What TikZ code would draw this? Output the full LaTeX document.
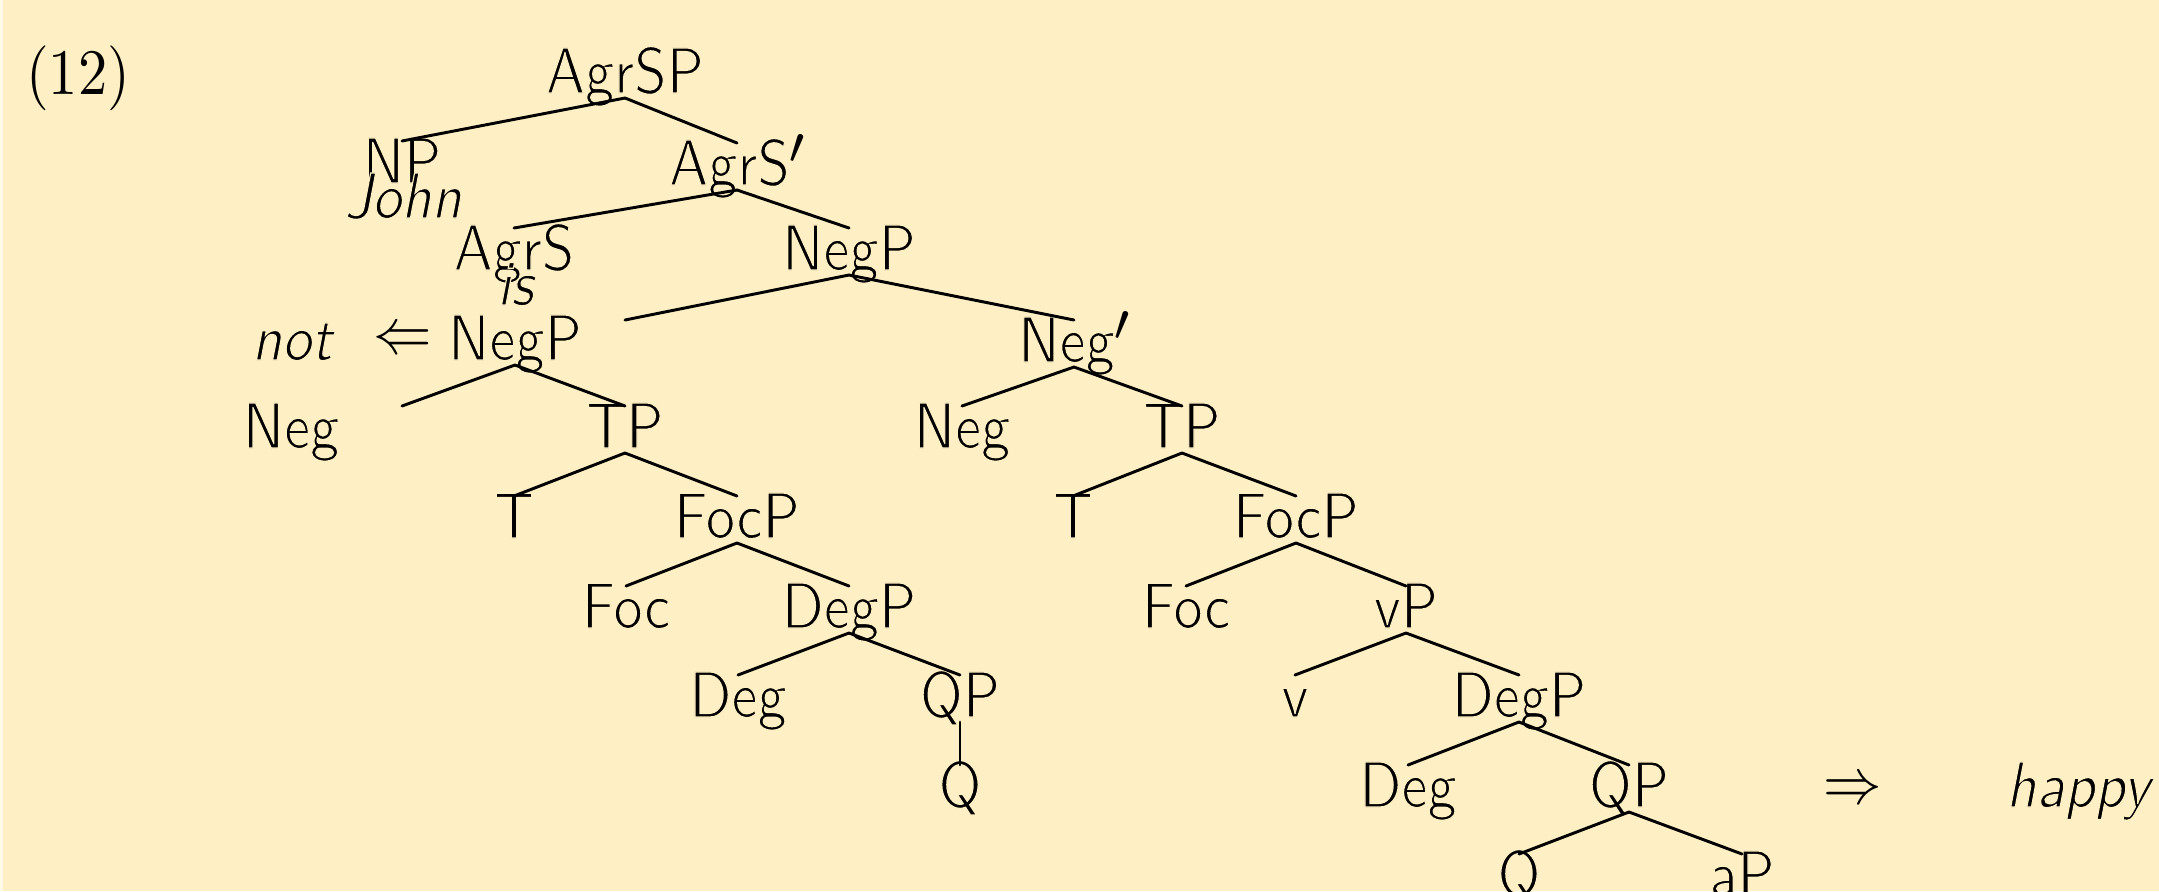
\documentclass[tikz,border=0pt]{standalone}
\usepackage{graphicx}
\usetikzlibrary{calc}
\definecolor{bgyellow}{RGB}{255,239,197}
\newcommand\thinon{\special{pdf:literal direct 2 Tr 0.2 w 1 0.937 0.773 RG}}
\newcommand\thinoff{\special{pdf:literal direct 0 Tr}}
\newcommand\sqz[1]{\scalebox{0.9}[1]{\thinon#1\thinoff}}
\newcommand\plainsq[1]{\scalebox{0.9}[1]{#1}}
\newcommand\primemark{\raisebox{3.35pt}{\fontsize{8.5}{10}\selectfont$\prime$}}
\newcommand\tbranch[2]{\draw[branch] ($(#1.base)+(0,5)$) -- ($(#2.base)+(0,-42)$);}
\begin{document}
\begin{tikzpicture}[x=0.154pt,y=-0.154pt,
  lab/.style={inner sep=0pt, outer sep=0pt, anchor=base, font=\sffamily},
  branch/.style={line width=0.45pt, line cap=round}]
\fill[bgyellow] (0,0) rectangle (2159,891);
\fill[white!60!bgyellow] (0,0) rectangle (3,891);
\useasboundingbox (0,0) rectangle (2159,891);
% level 0
\node[lab, font=\rmfamily] (ex) at (78,94) {\plainsq{(12)}};
\node[lab] (agrsp) at (625,93) {\sqz{AgrSP}};
% level 1
\node[lab] (np) at (402,183) {\sqz{NP}};
\node[lab] (john) at (403,218) {\sqz{\itshape John}};
\node[lab] (agrsbar) at (737,185) {\sqz{AgrS}\primemark};
% level 2
\node[lab] (agrs) at (514,270) {\sqz{AgrS}};
\node[lab] (is) at (515,305) {\sqz{\itshape is}};
\node[lab] (negpA) at (849,270) {\sqz{NegP}};
% level 3
\node[lab] (not) at (292,360) {\sqz{\itshape not}};
\node[lab] (larr) at (403,353) {\plainsq{$\Leftarrow$}};
\node[lab] (negpB) at (515,360) {\sqz{NegP}};
\node[lab] (negbar) at (1074,362) {\sqz{Neg}\primemark};
\coordinate (slotB) at (625,320);
\coordinate (slotN) at (402,406);
% level 4
\node[lab] (negA) at (291,448) {\sqz{Neg}};
\node[lab] (tpA) at (625,448) {\sqz{TP}};
\node[lab] (negB) at (962,448) {\sqz{Neg}};
\node[lab] (tpB) at (1182,448) {\sqz{TP}};
% level 5
\node[lab] (tA) at (514,538) {\sqz{T}};
\node[lab] (focpA) at (737,538) {\sqz{FocP}};
\node[lab] (tB) at (1073,538) {\sqz{T}};
\node[lab] (focpB) at (1296,538) {\sqz{FocP}};
% level 6
\node[lab] (focA) at (626,628) {\sqz{Foc}};
\node[lab] (degpA) at (849,628) {\sqz{DegP}};
\node[lab] (focB) at (1186,628) {\sqz{Foc}};
\node[lab] (vp) at (1406,628) {\sqz{vP}};
% level 7
\node[lab] (degA) at (738,717) {\sqz{Deg}};
\node[lab] (qpA) at (960,717) {\sqz{QP}};
\node[lab] (v) at (1295,717) {\sqz{v}};
\node[lab] (degpB) at (1519,717) {\sqz{DegP}};
% level 8
\node[lab] (qA) at (960,807) {\sqz{Q}};
\node[lab] (degB) at (1408,807) {\sqz{Deg}};
\node[lab] (qpB) at (1629,807) {\sqz{QP}};
\node[lab] (rarr) at (1853,803) {\plainsq{$\Rightarrow$}};
\node[lab] (happy) at (2078,807) {\sqz{\itshape happy}};
% level 9
\node[lab] (qB) at (1519,896) {\sqz{Q}};
\node[lab] (ap) at (1742,896) {\sqz{aP}};
% branches
\tbranch{agrsp}{np}
\tbranch{agrsp}{agrsbar}
\tbranch{agrsbar}{agrs}
\tbranch{agrsbar}{negpA}
\draw[branch] ($(negpA.base)+(0,5)$) -- (slotB);
\tbranch{negpA}{negbar}
\draw[branch] ($(negpB.base)+(0,5)$) -- (slotN);
\tbranch{negpB}{tpA}
\tbranch{negbar}{negB}
\tbranch{negbar}{tpB}
\tbranch{tpA}{tA}
\tbranch{tpA}{focpA}
\tbranch{focpA}{focA}
\tbranch{focpA}{degpA}
\tbranch{degpA}{degA}
\tbranch{degpA}{qpA}
\tbranch{qpA}{qA}
\tbranch{tpB}{tB}
\tbranch{tpB}{focpB}
\tbranch{focpB}{focB}
\tbranch{focpB}{vp}
\tbranch{vp}{v}
\tbranch{vp}{degpB}
\tbranch{degpB}{degB}
\tbranch{degpB}{qpB}
\tbranch{qpB}{qB}
\tbranch{qpB}{ap}
\end{tikzpicture}
\end{document}
